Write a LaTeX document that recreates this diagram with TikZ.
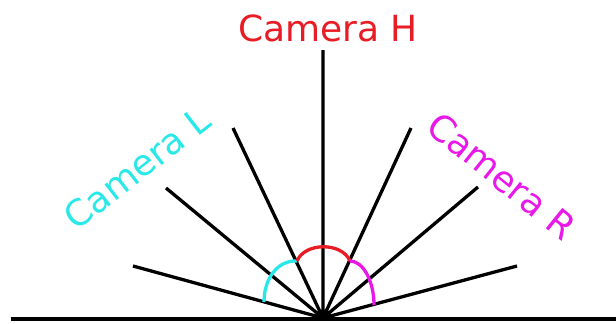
\documentclass[tikz,border=0pt]{standalone}
\usepackage{fontspec}
\setmainfont{DejaVu Sans}
\usepackage{tikz}
\usetikzlibrary{positioning}

\definecolor{camH}{RGB}{232,28,36}
\definecolor{camL}{RGB}{40,232,232}
\definecolor{camR}{RGB}{232,24,232}

\begin{document}
\begin{tikzpicture}[x=1pt,y=-1pt, every node/.style={font=\fontsize{36}{40}\selectfont,inner sep=0pt}]
  \useasboundingbox (0,0) rectangle (616,324);

  % ground and rays
  \coordinate (o) at (323,318);
  \coordinate (gl) at (11,318.5);
  \coordinate (gr) at (616,318.5);
  \coordinate (r1) at (133,266);
  \coordinate (r2) at (166,188);
  \coordinate (r3) at (233,128);
  \coordinate (r4) at (323,50);
  \coordinate (r5) at (411,128);
  \coordinate (r6) at (478,187);
  \coordinate (r7) at (517,266);
  \draw[line width=4pt] (gl)--(gr);
  \draw[line width=3.3pt] (o)--(r1) (o)--(r2) (o)--(r3) (o)--(r4)
    (o)--(r5) (o)--(r6) (o)--(r7);

  % arcs
  \coordinate (al) at (264,302);
  \coordinate (am) at (297,261);
  \coordinate (an) at (350,261);
  \coordinate (ar) at (374,305);
  \draw[camL,line width=3.3pt] (am) .. controls (278,260) and (264,278) .. (al);
  \draw[camH,line width=3.3pt] (am) .. controls (305,242) and (342,242) .. (an);
  \draw[camR,line width=3.3pt] (an) .. controls (363,261) and (374,281) .. (ar);

  % labels
  \node[text=camH] (labH) at (328,28) {Camera H};
  \node[text=camL,rotate=38] (labL) at (137,168) {Camera L};
  \node[text=camR,rotate=-39] (labR) at (502,176) {Camera R};
\end{tikzpicture}
\end{document}
